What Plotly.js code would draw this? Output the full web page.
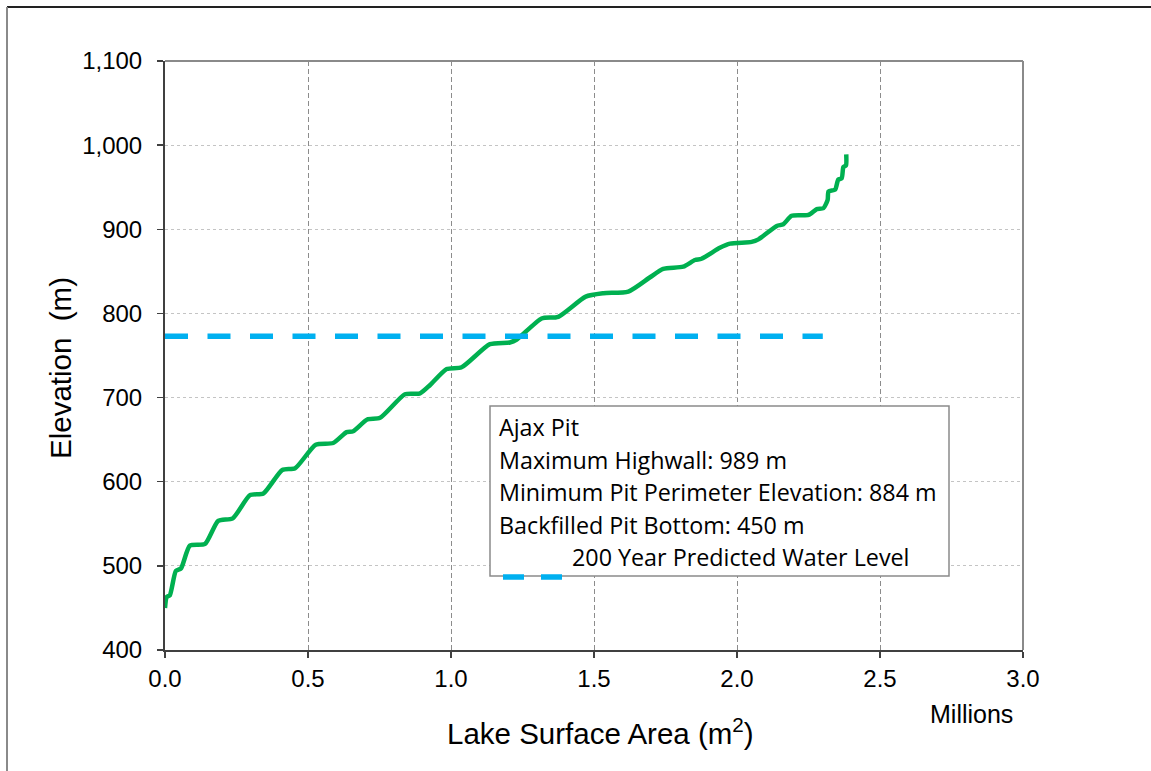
<!DOCTYPE html>
<html>
<head>
<meta charset="utf-8">
<script src="https://cdn.plot.ly/plotly-3.0.1.min.js"></script>
<style>
  html, body { margin: 0; padding: 0; background: #fff; }
  #chart { width: 1151px; height: 771px; }
</style>
</head>
<body>
<div id="chart"></div>
<script>
// ---- Data (lake surface area in millions of m², elevation in m) ----
const areaMillions = [
  0.000, 0.006, 0.017, 0.038, 0.056, 0.087, 0.140, 0.186, 0.237, 0.297,
  0.344, 0.410, 0.455, 0.527, 0.588, 0.635, 0.658, 0.707, 0.752, 0.839,
  0.892, 0.927, 0.985, 1.037, 1.136, 1.206, 1.230, 1.317, 1.375, 1.471,
  1.533, 1.620, 1.696, 1.742, 1.812, 1.853, 1.876, 1.940, 1.976, 2.051,
  2.075, 2.139, 2.162, 2.191, 2.250, 2.279, 2.302, 2.317, 2.320, 2.343,
  2.354, 2.366, 2.372, 2.381, 2.382
];
const elevation = [
  450, 463, 465, 494, 497, 524, 526, 553.5, 556.5, 584,
  586, 614, 616, 644, 646, 659, 660, 674, 676, 704,
  705, 715, 734, 736, 763.5, 765.5, 769, 794, 796, 820,
  824, 826, 843, 853, 855.5, 863.5, 865, 878, 883, 885,
  888, 904, 906, 916, 917, 924, 925, 935, 945, 947,
  959, 960.5, 974, 976, 989
];
const waterLevelX = [0, 2.3];
const waterLevelY = [773, 773];

const boxLines = [
  "Ajax Pit",
  "Maximum Highwall: 989 m",
  "Minimum Pit Perimeter Elevation: 884 m",
  "Backfilled Pit Bottom: 450 m"
];
const waterLegendLabel = "200 Year Predicted Water Level";
const xTitle = "Lake Surface Area (m<sup>2</sup>)";
const yTitle = "Elevation&nbsp;&nbsp;(m)";
const unitLabel = "Millions";

// ---- Layout helpers (pixel -> paper) ----
const W = 1151, H = 771;
const M = { l: 165, r: 128, t: 61, b: 121 };
const PW = W - M.l - M.r, PH = H - M.t - M.b;
const fx = px => (px - M.l) / PW;
const fy = py => (H - M.b - py) / PH;

const armFont = "'Liberation Sans', Arial, sans-serif";
const boxFont = "'Open Sans', sans-serif";

const traces = [
  {
    x: areaMillions, y: elevation, type: "scatter", mode: "lines",
    line: { color: "#00B050", width: 4.5, shape: "spline", smoothing: 0.6 },
    hoverinfo: "skip", showlegend: false
  },
  {
    x: waterLevelX, y: waterLevelY, type: "scatter", mode: "lines",
    line: { color: "#00B0F0", width: 5.5, dash: "23px,19.5px" },
    hoverinfo: "skip", showlegend: false
  }
];

const annotations = [];
boxLines.forEach((t, i) => {
  annotations.push({
    xref: "paper", yref: "paper", x: fx(497), y: fy(427 + i * 32.5),
    xanchor: "left", yanchor: "middle", showarrow: false, text: t,
    font: { family: boxFont, size: 23.3, color: "#000" }
  });
});
annotations.push({
  xref: "paper", yref: "paper", x: fx(570), y: fy(557),
  xanchor: "left", yanchor: "middle", showarrow: false, text: waterLegendLabel,
  font: { family: boxFont, size: 23.3, color: "#000" }
});
annotations.push({
  xref: "paper", yref: "paper", x: fx(600), y: fy(731),
  xanchor: "center", yanchor: "middle", showarrow: false, text: xTitle,
  font: { family: armFont, size: 29.5, color: "#000" }
});
annotations.push({
  xref: "paper", yref: "paper", x: fx(61), y: fy(368),
  xanchor: "center", yanchor: "middle", showarrow: false, text: yTitle, textangle: -90,
  font: { family: armFont, size: 29.5, color: "#000" }
});
annotations.push({
  xref: "paper", yref: "paper", x: fx(971), y: fy(714),
  xanchor: "center", yanchor: "middle", showarrow: false, text: unitLabel,
  font: { family: armFont, size: 25, color: "#000" }
});

const shapes = [
  // outer frame
  { type: "line", xref: "paper", yref: "paper", x0: fx(7), x1: fx(1160), y0: fy(7), y1: fy(7),
    line: { color: "#222", width: 2 } },
  { type: "line", xref: "paper", yref: "paper", x0: fx(7), x1: fx(7), y0: fy(7), y1: fy(780),
    line: { color: "#8a8a8a", width: 2 } },
  // plot area top & right border
  { type: "line", xref: "paper", yref: "paper", x0: 0, x1: 1, y0: 1, y1: 1,
    line: { color: "#8a8a8a", width: 2 } },
  { type: "line", xref: "paper", yref: "paper", x0: 1, x1: 1, y0: 0, y1: 1,
    line: { color: "#8a8a8a", width: 2 } },
  // text box
  { type: "rect", xref: "paper", yref: "paper", layer: "above",
    x0: fx(490), x1: fx(949), y0: fy(576), y1: fy(406),
    fillcolor: "#fff", line: { color: "#8a8a8a", width: 1.5 } },
  // legend sample for water level
  { type: "line", xref: "paper", yref: "paper", layer: "above",
    x0: fx(503), x1: fx(562), y0: fy(577), y1: fy(577),
    line: { color: "#00B0F0", width: 5.5, dash: "21px,17px" } }
];

const layout = {
  width: W, height: H,
  margin: { l: M.l, r: M.r, t: M.t, b: M.b, pad: 0 },
  paper_bgcolor: "#fff", plot_bgcolor: "#fff",
  showlegend: false,
  font: { family: armFont, color: "#000" },
  xaxis: {
    range: [0, 3], dtick: 0.5, tick0: 0, tickformat: ".1f",
    showgrid: true, gridcolor: "#8c8c8c", gridwidth: 1, griddash: "5px,3px",
    zeroline: false, showline: true, linecolor: "#404040", linewidth: 2,
    ticks: "outside", ticklen: 6, tickwidth: 1.5, tickcolor: "#404040",
    tickfont: { family: armFont, size: 24, color: "#000" },
    ticklabelstandoff: 0, fixedrange: true
  },
  yaxis: {
    range: [400, 1100], dtick: 100, tick0: 400, tickformat: ",",
    showgrid: true, gridcolor: "#c4c4c4", gridwidth: 1, griddash: "dot",
    zeroline: false, showline: true, linecolor: "#404040", linewidth: 2,
    ticks: "outside", ticklen: 6, tickwidth: 1.5, tickcolor: "#404040",
    tickfont: { family: armFont, size: 24, color: "#000" },
    ticklabelstandoff: 10, fixedrange: true
  },
  annotations: annotations,
  shapes: shapes
};

Plotly.newPlot("chart", traces, layout, { displayModeBar: false, staticPlot: true });
</script>
</body>
</html>
